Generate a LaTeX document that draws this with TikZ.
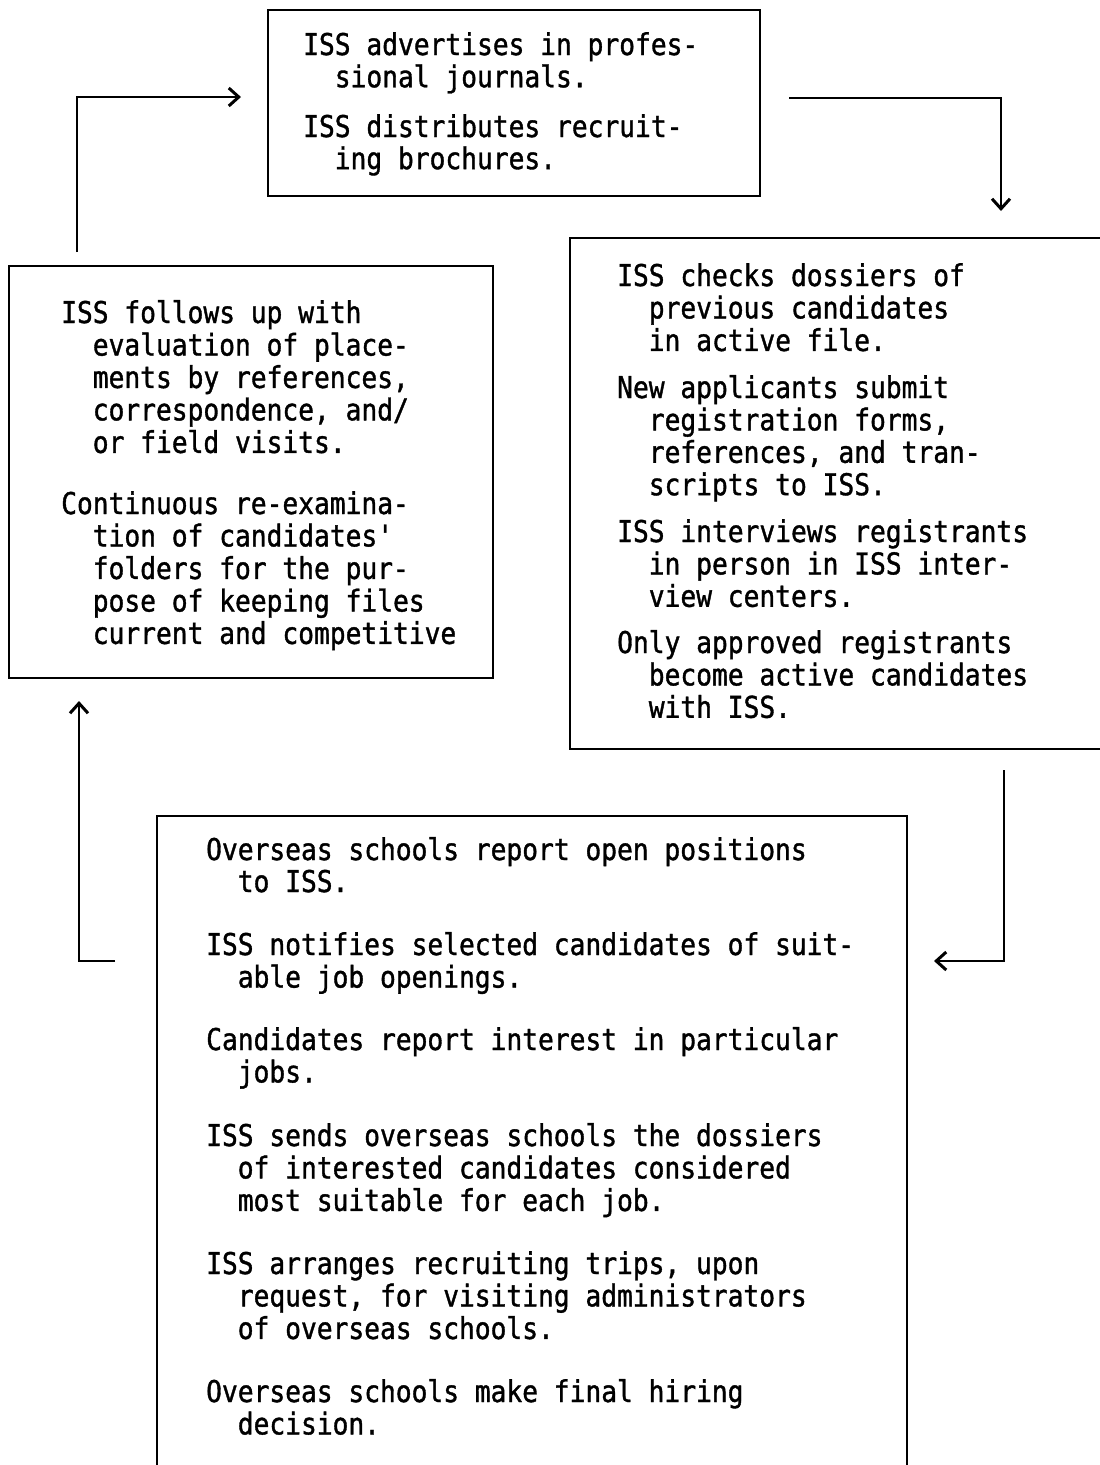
\documentclass[tikz,border=0pt]{standalone}
\usepackage{fontspec}
\newfontfamily\tw[FakeStretch=0.875,FakeBold=1.2,Ligatures=TeXOff]{DejaVu Sans Mono}
\usetikzlibrary{arrows.meta}
\newcommand\ii{\phantom{xx}}
\newcommand\pp[1]{\begin{tabular}[t]{@{}l@{}}#1\end{tabular}}
\begin{document}
\begin{tikzpicture}[x=1pt,y=-1pt,
  boxline/.style={line width=2.3pt,line join=miter},
  flow/.style={line width=2.6pt,-{Straight Barb[length=10pt,width=18pt,line width=3pt]}},
  para/.style={anchor=base west,inner sep=0pt,font=\tw\fontsize{30}{32}\selectfont},
  paratop/.style={para,font=\tw\fontsize{30}{31}\selectfont}]
\useasboundingbox (0,0) rectangle (1100,1465);
\fill[white] (0,0) rectangle (1100,1465);
% boxes
\draw[boxline] (268,10) rectangle (760,196);
\draw[boxline] (9,266) rectangle (493,678);
\draw[boxline] (1100,238) -- (570,238) -- (570,749) -- (1100,749);
\draw[boxline] (157,1465) -- (157,816) -- (907,816) -- (907,1465);
% top box text
\node[paratop] (t1) at (303,55) {\pp{ISS advertises in profes-\\ \ii sional journals.}};
\node[paratop] (t2) at (303,137) {\pp{ISS distributes recruit-\\ \ii ing brochures.}};
% left box text
\node[para] (l1) at (61,323) {\pp{ISS follows up with\\ \ii evaluation of place-\\ \ii ments by references,\\ \ii correspondence, and/\\ \ii or field visits.}};
\node[para] (l2) at (61,514) {\pp{Continuous re-examina-\\ \ii tion of candidates'\\ \ii folders for the pur-\\ \ii pose of keeping files\\ \ii current and competitive}};
% right box text
\node[para] (r1) at (617,286) {\pp{ISS checks dossiers of\\ \ii previous candidates\\ \ii in active file.}};
\node[para] (r2) at (617,398) {\pp{New applicants submit\\ \ii registration forms,\\ \ii references, and tran-\\ \ii scripts to ISS.}};
\node[para] (r3) at (617,542) {\pp{ISS interviews registrants\\ \ii in person in ISS inter-\\ \ii view centers.}};
\node[para] (r4) at (617,653) {\pp{Only approved registrants\\ \ii become active candidates\\ \ii with ISS.}};
% bottom box text
\node[para] (b1) at (206,860) {\pp{Overseas schools report open positions\\ \ii to ISS.}};
\node[para] (b2) at (206,955) {\pp{ISS notifies selected candidates of suit-\\ \ii able job openings.}};
\node[para] (b3) at (206,1050) {\pp{Candidates report interest in particular\\ \ii jobs.}};
\node[para] (b4) at (206,1146) {\pp{ISS sends overseas schools the dossiers\\ \ii of interested candidates considered\\ \ii most suitable for each job.}};
\node[para] (b5) at (206,1274) {\pp{ISS arranges recruiting trips, upon\\ \ii request, for visiting administrators\\ \ii of overseas schools.}};
\node[para] (b6) at (206,1402) {\pp{Overseas schools make final hiring\\ \ii decision.}};
% connectors
\coordinate (a1s) at (77,252);
\coordinate (a1e) at (241,97);
\coordinate (a2s) at (789,98);
\coordinate (a2e) at (1001,211);
\coordinate (a3s) at (1004,770);
\coordinate (a3e) at (934,961);
\coordinate (a4s) at (115,961);
\coordinate (a4e) at (79,701);
\draw[flow] (a1s) |- (a1e);
\draw[flow] (a2s) -| (a2e);
\draw[flow] (a3s) |- (a3e);
\draw[flow] (a4s) -| (a4e);
\end{tikzpicture}
\end{document}
